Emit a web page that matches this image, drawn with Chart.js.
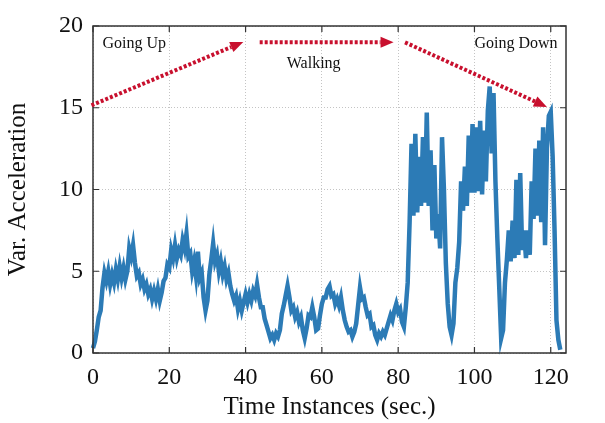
<!DOCTYPE html>
<html lang="en">
<head>
  <meta charset="UTF-8" />
  <title>Var. Acceleration</title>
  <script src="https://cdn.jsdelivr.net/npm/chart.js"></script>
  <style>
    html, body { margin: 0; padding: 0; background: #fff; }
    #wrap { width: 605px; height: 423px; }
  </style>
</head>
<body>
  <div id="wrap"><canvas id="accChart"></canvas></div>

  <script>
    // sampling step of the series (sec.)
    const step = 0.5;

    // variance of acceleration, one value every 0.5 s
    const accValues = [
      0.3, 0.7, 1.4, 2.2, 2.6, 4.0, 4.9, 4.4, 5.0, 4.2,
      4.8, 4.3, 5.1, 4.5, 5.3, 4.6, 5.2, 4.5, 5.0, 6.4,
      5.9, 6.6, 5.5, 4.7, 4.9, 4.2, 4.5, 3.9, 4.2, 3.6,
      3.9, 3.3, 3.8, 3.3, 3.9, 3.2, 3.7, 4.4, 4.6, 5.4,
      5.2, 6.3, 5.8, 6.6, 5.8, 6.3, 6.0, 6.9, 6.4, 7.3,
      5.9, 6.1, 5.0, 5.6, 4.7, 6.2, 4.6, 4.9, 3.4, 2.6,
      3.2, 4.8, 5.7, 6.7, 5.6, 6.0, 5.0, 5.6, 4.8, 5.3,
      4.5, 4.9, 4.1, 3.6, 3.2, 3.5, 2.7, 3.2, 2.6, 3.1,
      3.6, 3.1, 3.6, 3.2, 3.8, 3.5, 4.2, 3.4, 2.8, 2.8,
      2.1, 1.7, 1.3, 0.9, 1.1, 0.8, 1.2, 1.0, 1.4, 2.4,
      2.9, 3.5, 4.1, 3.4, 2.6, 2.8, 2.2, 2.5, 1.9, 2.2,
      1.4, 0.9, 1.5, 2.3, 2.2, 2.8, 2.2, 1.4, 1.5, 2.3,
      3.0, 3.4, 3.4, 3.9, 4.1, 3.5, 3.6, 3.0, 3.3, 2.9,
      3.4, 2.6, 2.0, 1.6, 1.3, 1.4, 1.0, 1.3, 1.8, 2.9,
      4.0, 3.3, 3.4, 2.8, 2.3, 2.4, 1.6, 1.7, 1.1, 0.8,
      1.2, 1.0, 1.3, 1.1, 1.5, 1.9, 2.3, 2.0, 2.6, 3.0,
      2.5, 2.7, 1.9, 1.6, 2.8, 4.3, 8.0, 12.8, 8.4, 13.4,
      8.6, 12.0, 9.0, 13.2, 9.2, 14.7, 9.0, 12.4, 7.5, 11.5,
      7.0, 8.5, 6.4, 13.2, 10.0, 5.5, 3.0, 1.6, 1.1, 1.8,
      4.3, 5.2, 6.8, 10.5, 8.7, 11.4, 9.0, 13.3, 9.8, 14.0,
      9.8, 13.8, 9.9, 14.2, 9.7, 13.6, 10.5, 14.8, 16.3, 12.2,
      15.9, 10.5, 7.0, 4.0, 0.9, 1.4, 4.3, 5.7, 7.5, 5.6,
      8.1, 5.8, 10.6, 6.0, 11.0, 6.3, 7.5, 5.8, 7.5, 6.0,
      10.5, 8.2, 12.5, 8.4, 13.0, 8.0, 13.8, 6.6, 12.5, 14.5,
      14.75, 12.0, 7.5, 2.0, 0.8, 0.2
    ];

    const xTicks = [0, 20, 40, 60, 80, 100, 120];
    const yTicks = [0, 5, 10, 15, 20];

    // red dotted arrows: start x, start y, end x, end y
    const arrowX1 = [-0.4, 43.7, 81.8];
    const arrowY1 = [15.15, 19.0, 19.0];
    const arrowX2 = [39.4, 78.8, 119.0];
    const arrowY2 = [19.02, 19.0, 15.05];

    // phase labels
    const phaseText = ['Going Up', 'Walking', 'Going Down'];
    const phaseX = [2.5, 50.8, 121.8];
    const phaseY = [18.93, 17.7, 18.93];
    const phaseAlign = ['left', 'left', 'right'];

    const points = accValues.map((v, i) => ({ x: i * step, y: v }));

    const serif = '"Liberation Serif", "DejaVu Serif", serif';
    const red = '#c8102e';

    // box round the plot area with inward tick marks
    const frame = {
      id: 'frame',
      afterDatasetsDraw(chart) {
        const { ctx, chartArea: a, scales } = chart;
        ctx.save();
        ctx.strokeStyle = '#333';
        ctx.lineWidth = 1.5;
        ctx.strokeRect(a.left, a.top, a.right - a.left, a.bottom - a.top);
        ctx.lineWidth = 1.2;
        xTicks.forEach(v => {
          const px = scales.x.getPixelForValue(v);
          ctx.beginPath();
          ctx.moveTo(px, a.bottom); ctx.lineTo(px, a.bottom - 6);
          ctx.moveTo(px, a.top); ctx.lineTo(px, a.top + 6);
          ctx.stroke();
        });
        yTicks.forEach(v => {
          const py = scales.y.getPixelForValue(v);
          ctx.beginPath();
          ctx.moveTo(a.left, py); ctx.lineTo(a.left + 6, py);
          ctx.moveTo(a.right, py); ctx.lineTo(a.right - 6, py);
          ctx.stroke();
        });
        ctx.restore();
      }
    };

    // arrows and phase labels
    const phases = {
      id: 'phases',
      afterDatasetsDraw(chart) {
        const { ctx, scales } = chart;
        const sx = scales.x, sy = scales.y;
        ctx.save();
        arrowX1.forEach((_, i) => {
          const x1 = sx.getPixelForValue(arrowX1[i]);
          const y1 = sy.getPixelForValue(arrowY1[i]);
          const x2 = sx.getPixelForValue(arrowX2[i]);
          const y2 = sy.getPixelForValue(arrowY2[i]);
          const ang = Math.atan2(y2 - y1, x2 - x1);
          const head = 13, half = 5.5;
          const bx = x2 - head * Math.cos(ang);
          const by = y2 - head * Math.sin(ang);
          ctx.strokeStyle = red;
          ctx.lineWidth = 4;
          ctx.lineCap = 'butt';
          ctx.setLineDash([3, 2]);
          ctx.beginPath();
          ctx.moveTo(x1, y1);
          ctx.lineTo(bx, by);
          ctx.stroke();
          ctx.setLineDash([]);
          ctx.fillStyle = red;
          ctx.beginPath();
          ctx.moveTo(x2, y2);
          ctx.lineTo(bx + half * Math.sin(ang), by - half * Math.cos(ang));
          ctx.lineTo(bx - half * Math.sin(ang), by + half * Math.cos(ang));
          ctx.closePath();
          ctx.fill();
        });
        ctx.fillStyle = '#111';
        ctx.font = '16px ' + serif;
        ctx.textBaseline = 'middle';
        phaseText.forEach((t, i) => {
          ctx.textAlign = phaseAlign[i];
          ctx.fillText(t, sx.getPixelForValue(phaseX[i]), sy.getPixelForValue(phaseY[i]));
        });
        ctx.restore();
      }
    };

    const ctx = document.getElementById('accChart').getContext('2d');
    new Chart(ctx, {
      type: 'line',
      data: {
        datasets: [{
          data: points,
          borderColor: 'rgb(44,123,182)',
          borderWidth: 4.5,
          pointRadius: 0,
          tension: 0,
          fill: false,
          clip: false
        }]
      },
      options: {
        responsive: true,
        maintainAspectRatio: false,
        animation: false,
        events: [],
        layout: { padding: { top: 26, right: 39, left: 0, bottom: 0 } },
        plugins: { legend: { display: false }, tooltip: { enabled: false } },
        scales: {
          x: {
            type: 'linear',
            min: 0,
            max: 124,
            afterBuildTicks: s => { s.ticks = xTicks.map(v => ({ value: v })); },
            afterFit: s => { s.height = 70; },
            grid: { color: '#c4c4c4', lineWidth: 1, drawTicks: false },
            border: { display: false, dash: [1, 2] },
            ticks: { color: '#111', padding: 10, font: { family: serif, size: 24 } },
            title: {
              display: true,
              text: 'Time Instances (sec.)',
              color: '#111',
              padding: { top: 0, bottom: 1 },
              font: { family: serif, size: 25 }
            }
          },
          y: {
            min: 0,
            max: 20,
            afterBuildTicks: s => { s.ticks = yTicks.map(v => ({ value: v })); },
            afterFit: s => { s.width = 93; },
            grid: { color: '#c4c4c4', lineWidth: 1, drawTicks: false },
            border: { display: false, dash: [1, 2] },
            ticks: { color: '#111', padding: 10, font: { family: serif, size: 24 } },
            title: {
              display: true,
              text: 'Var. Acceleration',
              color: '#111',
              padding: { top: 3, bottom: 0 },
              font: { family: serif, size: 25 }
            }
          }
        }
      },
      plugins: [frame, phases]
    });
  </script>
</body>
</html>
